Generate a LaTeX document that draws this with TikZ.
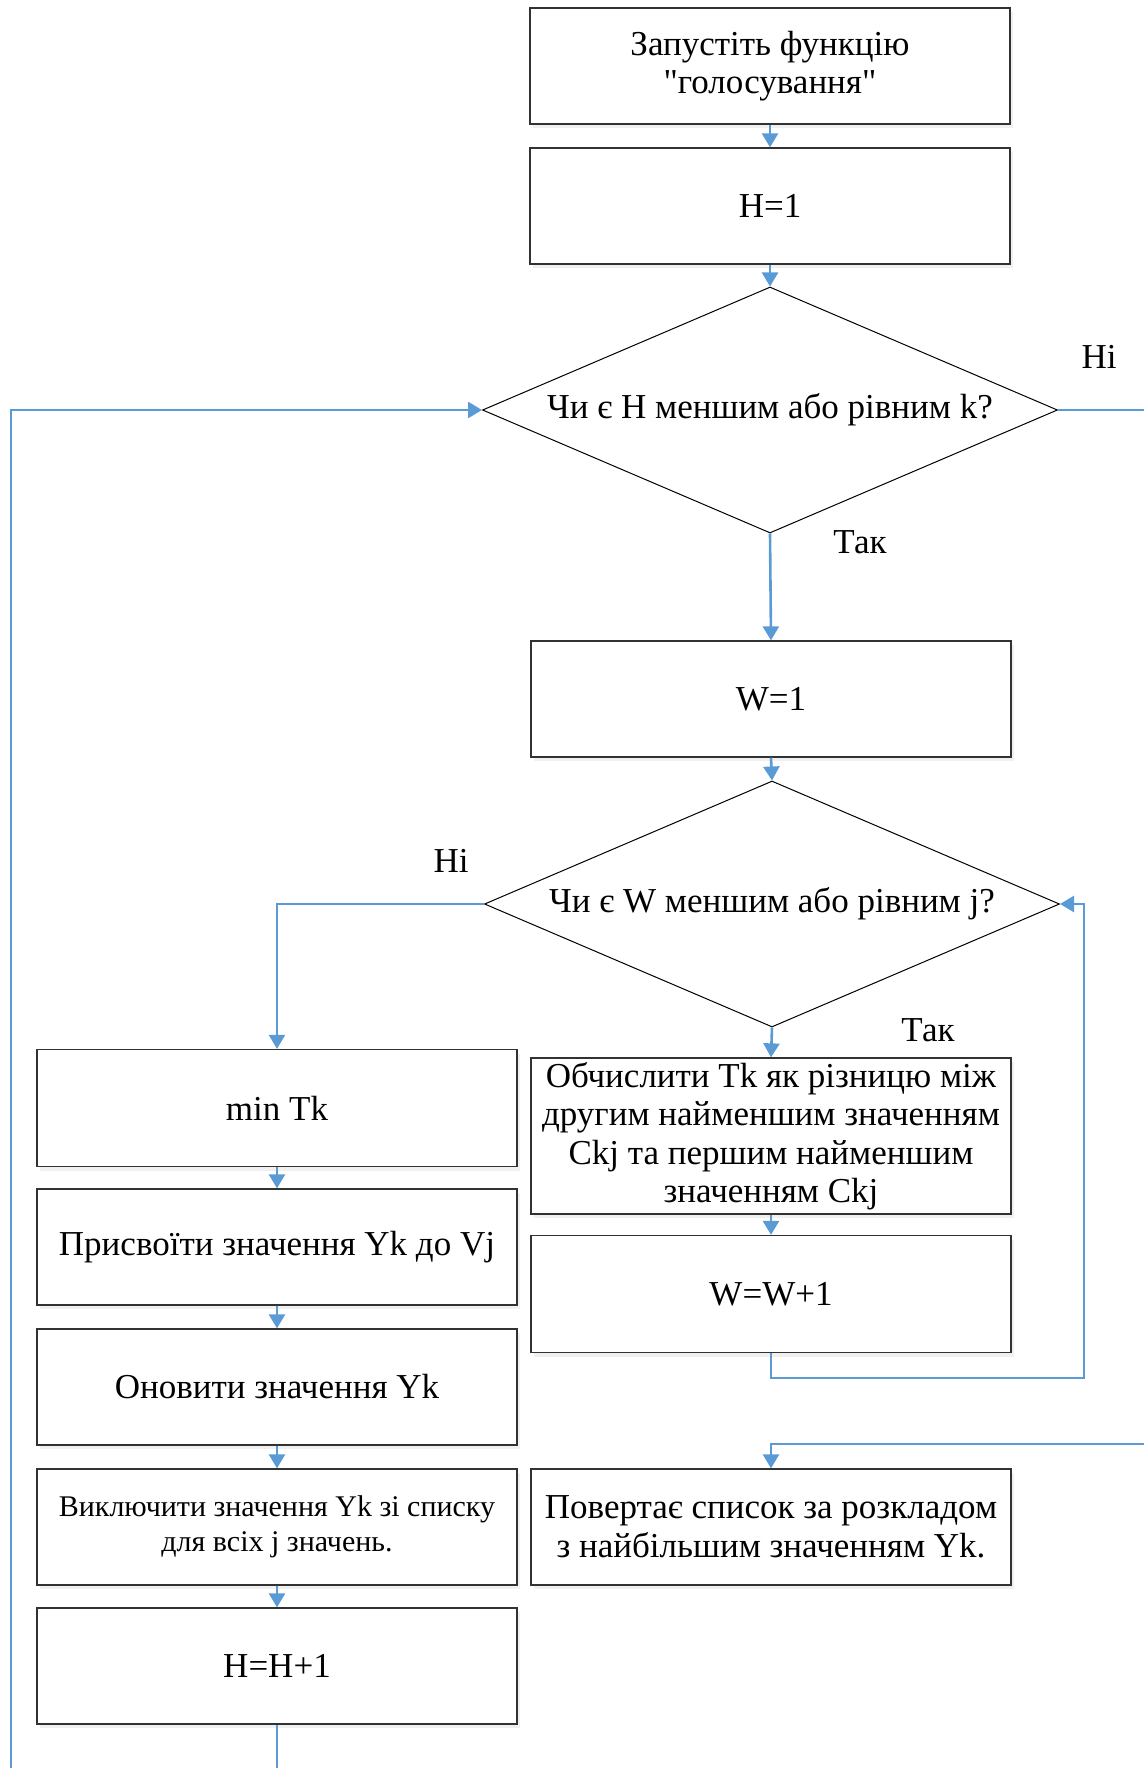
\documentclass[tikz,border=0pt]{standalone}
\usepackage{fontspec}
\setmainfont{Liberation Serif}
\newfontfamily\plainq{Liberation Serif}
\usetikzlibrary{arrows.meta,shadows,shapes.geometric}
\definecolor{conn}{RGB}{91,155,213}
\definecolor{edge}{RGB}{50,50,50}
\begin{document}
\begin{tikzpicture}[x=1pt,y=-1pt,
  procbox/.style={draw=edge,line width=1.3pt,fill=white,minimum width=480pt,inner sep=0pt,align=center,
     font=\fontsize{35}{38.5}\selectfont,
     drop shadow={opacity=0.12,shadow xshift=3pt,shadow yshift=-4pt}},
  decbox/.style={draw=black,line width=1pt,fill=white,diamond,inner sep=0pt,minimum width=575pt,minimum height=246pt},
  dectext/.style={font=\fontsize{35}{38.5}\selectfont},
  lbl/.style={font=\fontsize{35}{38.5}\selectfont},
  conline/.style={draw=conn,line width=2.6pt},
  arr/.style={conline,-{Triangle[width=16pt,length=14pt]}}
]
\useasboundingbox (0,0) rectangle (1144,1768);
% boxes
\node[procbox,minimum height=116pt] (b1) at (770,66) {Запустіть функцію\\{\plainq"}голосування{\plainq"}};
\node[procbox,minimum height=116pt] (b2) at (770,206) {H=1};
\node[decbox] (d1) at (770,410) {};
\node[dectext] (d1t) at (770,410) {Чи є H меншим або рівним k?};
\node[procbox,minimum height=116pt] (w1) at (771,699) {W=1};
\node[decbox] (d2) at (772,904) {};
\node[dectext] (d2t) at (772,904) {Чи є W меншим або рівним j?};
\node[procbox,minimum height=156pt] (obch) at (771,1136) {Обчислити Tk як різницю між\\другим найменшим значенням\\Ckj та першим найменшим\\значенням Ckj};
\node[procbox,minimum height=117pt] (ww) at (771,1294) {W=W+1};
\node[procbox,minimum height=116pt] (pov) at (771,1527) {Повертає список за розкладом\\з найбільшим значенням Yk.};
\node[procbox,minimum height=117pt] (mint) at (277,1108) {min Tk};
\node[procbox,minimum height=116pt] (prys) at (277,1247) {Присвоїти значення Yk до Vj};
\node[procbox,minimum height=116pt] (onov) at (277,1387) {Оновити значення Yk};
\node[procbox,minimum height=116pt,font=\fontsize{30}{35}\selectfont] (vykl) at (277,1527) {Виключити значення Yk зі списку\\для всіх j значень.};
\node[procbox,minimum height=116pt] (hh) at (277,1666) {H=H+1};
% labels
\node[lbl] (l1) at (1099,357) {Ні};
\node[lbl] (l2) at (860,542) {Так};
\node[lbl] (l3) at (451,861) {Ні};
\node[lbl] (l4) at (928,1030) {Так};
% free-end coordinates
\coordinate (rightA) at (1144,410);
\coordinate (rightB) at (1144,1444);
\coordinate (botL) at (11,1768);
\coordinate (botH) at (277,1768);
% connectors
\draw[arr] (b1.south) -- (b2.north);
\draw[arr] (b2.south) -- (d1.north);
\draw[arr] (d1.south) -- (w1.north);
\draw[arr] (w1.south) -- (d2.north);
\draw[arr] (d2.south) -- (obch.north);
\draw[arr] (obch.south) -- (ww.north);
\draw[arr] (ww.south) -- ++(0,25) -| (1084,904) -- (d2.east);
\draw[arr] (d2.west) -| (mint.north);
\draw[arr] (mint.south) -- (prys.north);
\draw[arr] (prys.south) -- (onov.north);
\draw[arr] (onov.south) -- (vykl.north);
\draw[arr] (vykl.south) -- (hh.north);
\draw[conline] (hh.south) -- (botH);
\draw[arr] (botL) |- (d1.west);
\draw[conline] (d1.east) -- (rightA);
\draw[arr] (rightB) -| (pov.north);
\end{tikzpicture}
\end{document}
